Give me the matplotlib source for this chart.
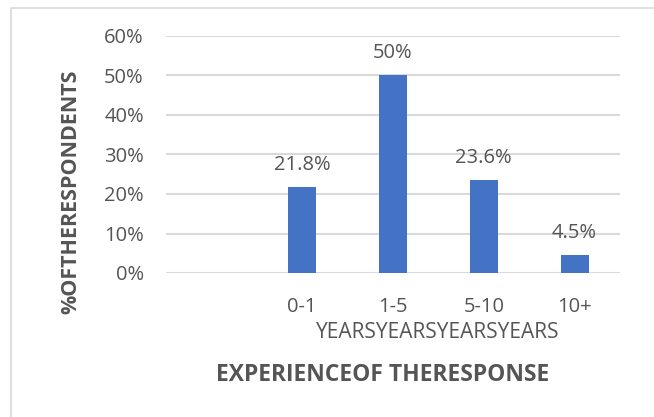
import matplotlib.pyplot as plt
from matplotlib.patches import Rectangle
from matplotlib.ticker import PercentFormatter

# experience groups (first slot is left empty on the axis)
grupos = ["", "0-1", "1-5", "5-10", "10+"]
percentuais = [None, 21.8, 50, 23.6, 4.5]
unidade = "YEARS"
rotulos = ["", "21.8%", "50%", "23.6%", "4.5%"]

cinza = "#555555"
azul = "#4472C4"

plt.rcParams["font.family"] = ["Open Sans", "DejaVu Sans"]

fig = plt.figure(figsize=(6.54, 4.17), dpi=100)
ax = fig.add_axes([166 / 654, 144 / 417, 454 / 654, 237 / 417])

# moldura clara em volta do grafico
fig.patches.append(Rectangle((11 / 654, -0.2), 1.2, 1.2 - 8 / 417,
                             transform=fig.transFigure, fill=False,
                             edgecolor="#d9d9d9", linewidth=1.2))

x = list(range(len(grupos)))
alturas = [v / 100 if v is not None else 0 for v in percentuais]
barras = ax.bar(x, alturas, width=0.31, color=azul, zorder=3)
for b, txt in zip(barras, rotulos):
    if txt:
        ax.text(b.get_x() + b.get_width() / 2, b.get_height() + 0.056, txt,
                ha="center", va="center", fontsize=14.5, color=cinza)

ax.set_xlim(-0.5, len(grupos) - 0.5)
ax.set_ylim(0, 0.6)
ax.set_yticks([0, 0.1, 0.2, 0.3, 0.4, 0.5, 0.6])
ax.yaxis.set_major_formatter(PercentFormatter(1.0, decimals=0))
ax.grid(axis="y", color="#d9d9d9", linewidth=1.5, zorder=0)
ax.set_xticks(x)
ax.set_xticklabels(grupos)
ax.tick_params(axis="both", length=0, labelsize=14.5, labelcolor=cinza)
ax.tick_params(axis="y", pad=16)
ax.tick_params(axis="x", pad=17)
for s in ax.spines.values():
    s.set_visible(False)

# segunda linha dos rotulos do eixo x
ax.text(0.599, -0.252, unidade * (len(grupos) - 1), transform=ax.transAxes,
        ha="center", va="center", fontsize=15, color=cinza)

ax.set_ylabel("%OFTHERESPONDENTS", fontsize=15.5, fontweight="bold",
              color=cinza)
ax.yaxis.set_label_coords(-0.187, 0.342)
fig.text(383 / 654, 1 - 375 / 417, "EXPERIENCEOF THERESPONSE", ha="center",
         va="center", fontsize=16.5, fontweight="bold", color=cinza)

plt.savefig("out.png", dpi=100)
